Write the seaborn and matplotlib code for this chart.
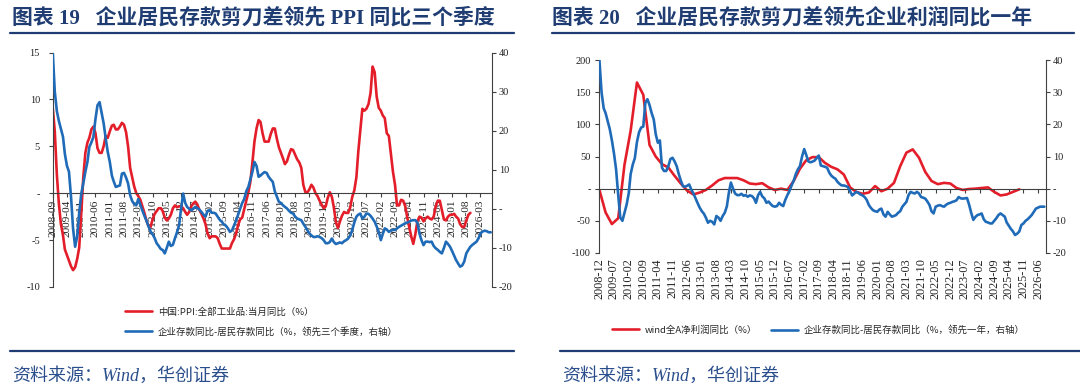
import matplotlib
matplotlib.use("Agg")
import matplotlib.pyplot as plt
import matplotlib.dates as mdates
import matplotlib.ticker as mticker
from matplotlib.lines import Line2D
import pandas as pd
import seaborn as sns

sns.set_theme(style="white")
plt.rcParams["font.family"] = ["Liberation Serif", "Noto Sans CJK SC", "DejaVu Sans"]
CJK = ["Noto Sans CJK SC", "DejaVu Sans"]
MIXED = ["Liberation Serif", "Noto Sans CJK SC"]

RED = "#E31E2A"
BLUE = "#1F6BB8"
NAVY = "#1F3D73"
AXIS = "#404040"

# ---------------- chart 19: PPI vs deposit gap (lead 3 quarters) ----------------
ppi_start = "2008-09-01"
ppi_yoy = [
    9.1, 6.6, 2.0, -1.1,
    -3.3, -4.5, -6.0, -6.6, -7.2, -7.8, -8.2, -7.9, -7.0, -5.8, -2.1, 1.7,
    4.3, 5.4, 5.9, 6.8, 7.1, 6.4, 4.8, 4.3, 4.3, 5.0, 6.1, 5.9,
    6.6, 7.2, 7.3, 6.8, 6.8, 7.1, 7.5, 7.3, 6.5, 5.0, 2.7, 1.7,
    0.7, 0.0, -0.3, -0.7, -1.4, -2.1, -2.9, -3.5, -3.6, -2.8, -2.2, -1.9,
    -1.6, -1.6, -1.9, -2.6, -2.9, -2.7, -2.3, -1.6, -1.3, -1.5, -1.4, -1.4,
    -1.6, -2.0, -2.3, -2.0, -1.4, -1.1, -0.9, -1.2, -1.8, -2.2, -2.7, -3.3,
    -4.3, -4.8, -4.6, -4.6, -4.6, -4.8, -5.4, -5.9, -5.9, -5.9, -5.9, -5.9,
    -5.3, -4.9, -4.3, -3.4, -2.8, -2.6, -1.7, -0.8, 0.1, 1.2, 3.3, 5.5,
    6.9, 7.8, 7.6, 6.4, 5.5, 5.5, 5.5, 6.3, 6.9, 6.9, 5.8, 4.9,
    4.3, 3.7, 3.1, 3.4, 4.1, 4.7, 4.6, 4.1, 3.6, 3.3, 2.7, 0.9,
    0.1, 0.1, 0.4, 0.9, 0.6, 0.0, -0.3, -0.8, -1.2, -1.6, -1.4, -0.5,
    0.1, -0.4, -1.5, -3.1, -3.7, -3.0, -2.4, -2.0, -2.1, -2.1, -1.5, -0.4,
    0.3, 1.7, 4.4, 6.8, 9.0, 8.8, 9.0, 9.5, 10.7, 13.5, 12.9, 10.3,
    9.1, 8.8, 8.3, 8.0, 6.4, 6.1, 4.2, 2.3, 0.9, -1.3, -1.3, -0.7,
    -0.8, -1.4, -2.5, -3.6, -4.6, -5.4, -4.4, -3.0, -2.5, -2.6, -3.0, -2.7,
    -2.5, -2.7, -2.8, -2.5, -1.4, -0.8, -0.8, -1.8, -2.8, -2.9, -2.5, -2.3,
    -2.3, -2.2, -2.5, -2.7, -3.3, -3.6, -3.6, -2.9, -2.3, -2.1,
]

gap_q3_start = "2008-09-01"
gap_lead_q3 = [
    40, 30, 25, 22.5, 20.5, 18.4, 14, 11, 9.5, 3, -5, -9.7,
    -7, -1, 3.9, 6.5, 9.5, 12, 15.8, 17, 18.4, 23, 26.5, 27.3,
    24.5, 21.9, 18, 14.6, 12, 8.5, 7, 5.6, 5.8, 6, 9, 9.2,
    8, 6.5, 3.5, 2, 1.2, 0.9, 2.5, 1, -0.4, -1.8, -3, -4.5,
    -5.8, -6.5, -7.5, -8.8, -9.5, -10.3, -10.5, -11.4, -10, -8.4, -9.5, -9.2,
    -7.5, -6, -4.2, 0, 3.9, 1.5, 0.5, 0, -0.4, 0, 0.5, 0.2,
    -0.2, -0.8, -1.5, -2, -0.5, -0.3, -1, -1, -1.2, -2, -2.8, -3.3,
    -4, -4.3, -5, -5.9, -5.5, -4.2, -3, -1.5, 0, 1.5, 2.5, 4.5,
    5.6, 7.5, 9.5, 12, 11, 8.2, 8.5, 9, 9.4, 9.2, 8.2, 7.5,
    6.9, 4.5, 3.1, 1.8, 1.5, 0.9, 0.5, 0.1, -0.5, -1, -1.2, -2,
    -2.5, -2.7, -2.9, -3.8, -4.6, -5.5, -6.3, -6.8, -7.2, -7.2, -7, -7.2,
    -7.5, -8, -8.8, -8.8, -8.5, -7.6, -8.5, -9, -8.8, -8.6, -8.8, -8.3,
    -8, -7.6, -6.8, -5.4, -3.5, -2, -1.5, -1.2, -2.5, -2, -1.2, -1.3,
    -1.8, -2.5, -3.3, -4.5, -5.9, -8, -6.5, -5, -5.3, -5.9, -5.6, -5.4,
    -5.4, -5, -4.6, -4.3, -4, -3.7, -3.5, -3.3, -3, -2.9, -2.9, -3.5,
    -6.3, -8, -9.3, -8.4, -8.4, -8.5, -8.4, -9.5, -10.1, -10.5, -11, -11.4,
    -10, -8.4, -9, -9.7, -10.8, -12, -13.1, -14, -14.8, -14.5, -13.5, -11.4,
    -10.5, -9.7, -9.2, -8.8, -8.4, -7.5, -6.3, -5.8, -5.6, -5.7, -6, -6,
]
ticks_19 = pd.date_range("2008-09-01", periods=31, freq="7MS")

# ---------------- chart 20: profit vs deposit gap (lead 1 year) ----------------
profit_start = "2008-12-01"  # quarterly
profit_yoy = [
    -2, -37, -55, -46, 37, 90, 165, 146, 68, 50, 38, 33,
    20, 8, -3, -9, -6, -2, 5, 13, 16.5, 16.5, 16.5, 13,
    8, 7, 8.5, 2, -2, 0, -2, 12, 31, 44, 49, 49,
    40, 34, 30, 22, 2, -5, -8, -6, 4, -4, 0, 9,
    35, 56, 61, 48, 26, 12, 7, 9, 8, 1, -2, -0.5,
    0, 1, 2, -5, -10.5, -9, -5, -1,
]

gap_y1_start = "2008-12-01"
gap_lead_y1 = [
    40, 30, 25, 23.5, 21, 18.5, 15, 11, 6, -2, -9, -10,
    -7.5, -5, -1.5, 4.5, 7.5, 9.5, 14.5, 17.5, 19, 19.3, 26.7, 27.8,
    26, 23.5, 21.5, 17, 14.3, 15, 6.5, 5.5, 5.5, 7, 9.2, 9.6,
    8.5, 7, 4.5, 2.5, 0.8, 0.6, 0.9, 1.3, -0.3, -1.5, -3, -4.5,
    -5.9, -7, -7.8, -9, -10.6, -10, -10.3, -11.1, -8.5, -9, -10, -8.5,
    -7.5, -5.5, -1, 1.9, 0, -1.5, -2, -2, -1.6, -2.2, -2, -2.5,
    -2.1, -2.3, -3, -4.4, -2, -1, -2.4, -3, -4.4, -4, -4.8, -5.4,
    -5.6, -5.4, -4.4, -5, -5.4, -3.5, -2, -0.7, 1, 2.5, 4.5, 6,
    7, 10, 12.3, 10.6, 8.5, 8.2, 8.4, 8.7, 9.5, 10.3, 7.2, 7,
    6.8, 6.5, 5, 4.1, 3.5, 3.1, 2.1, 1.5, 1, 1, 0.8, 0.5,
    -0.8, -2.1, -1.5, -1, -1.3, -1.8, -2.1, -2.6, -3.5, -5.1, -6, -6.7,
    -7, -7.2, -6.5, -6.2, -8, -8.7, -7.2, -8, -8.7, -8.5, -8.2, -7.5,
    -7, -5.6, -4.8, -4.1, -2, -1, -1.3, -1.5, -1, -1.5, -2.6, -2.8,
    -3.1, -4, -5.1, -7, -7.7, -5.6, -5.3, -5.1, -5.4, -5.6, -5, -4.6,
    -4.4, -4.1, -3.9, -3.6, -2.6, -3, -3.1, -3, -2.9, -5, -7.5, -9.7,
    -8.8, -8.2, -8, -7.7, -9.5, -10.3, -10.5, -10.8, -10.8, -10, -9.2, -8.2,
    -7.7, -8.2, -8.7, -10.5, -11.5, -12.5, -13.3, -14.4, -14, -13.3, -11.3, -10.8,
    -10, -9.5, -8.8, -8.2, -7.2, -6.2, -5.9, -5.6, -5.6, -5.6,
]
ticks_20 = pd.date_range("2008-12-01", periods=31, freq="7MS")

ppi_df = pd.DataFrame({"date": pd.date_range(ppi_start, periods=len(ppi_yoy), freq="MS"), "v": ppi_yoy})
g19_df = pd.DataFrame({"date": pd.date_range(gap_q3_start, periods=len(gap_lead_q3), freq="MS"), "v": gap_lead_q3})
prof_df = pd.DataFrame({"date": pd.date_range(profit_start, periods=len(profit_yoy), freq="3MS"), "v": profit_yoy})
g20_df = pd.DataFrame({"date": pd.date_range(gap_y1_start, periods=len(gap_lead_y1), freq="MS"), "v": gap_lead_y1})


def dash_zero(v, pos):
    return "-" if abs(v) < 1e-9 else f"{v:g}"


def style_pair(ax, ax2):
    for a in (ax, ax2):
        a.set_facecolor("none")
        a.grid(False)
        a.set_xlabel("")
        a.set_ylabel("")
        for s in a.spines.values():
            s.set_color(AXIS)
            s.set_linewidth(0.8)
    ax.spines["top"].set_visible(False)
    ax.spines["right"].set_visible(False)
    ax2.spines["top"].set_visible(False)
    ax2.spines["left"].set_visible(False)
    ax2.spines["bottom"].set_visible(False)
    ax.spines["bottom"].set_position(("data", 0))
    ax.yaxis.set_major_formatter(mticker.FuncFormatter(dash_zero))
    ax2.yaxis.set_major_formatter(mticker.FuncFormatter(dash_zero))
    ax.tick_params(axis="y", which="major", left=True, direction="out", length=3,
                   width=0.8, color=AXIS, labelsize=7.5, labelcolor="#222222", pad=6)
    ax2.tick_params(axis="y", which="major", right=True, direction="out", length=3,
                    width=0.8, color=AXIS, labelsize=7.5, labelcolor="#222222", pad=2)
    ax.xaxis.set_major_formatter(mdates.DateFormatter("%Y-%m"))
    for lab in ax.get_yticklabels() + ax2.get_yticklabels():
        lab.set_family("Liberation Serif")


fig = plt.figure(figsize=(10.8, 3.9), dpi=100)
fig.patch.set_facecolor("white")

# ---- left chart
ax1 = fig.add_axes([52.5 / 1080, 1 - 287 / 390, (492 - 52.5) / 1080, (287 - 52.5) / 390])
ax2 = ax1.twinx()
sns.lineplot(data=ppi_df, x="date", y="v", ax=ax1, color=RED, linewidth=1.9)
sns.lineplot(data=g19_df, x="date", y="v", ax=ax2, color=BLUE, linewidth=1.9)
ax1.set_ylim(-10, 15)
ax1.set_yticks([-10, -5, 0, 5, 10, 15])
ax2.set_ylim(-20, 40)
ax2.set_yticks([-20, -10, 0, 10, 20, 30, 40])
ax1.set_xlim(pd.Timestamp("2008-08-28"), pd.Timestamp("2026-08-20"))
ax1.set_xticks(ticks_19)
style_pair(ax1, ax2)
ax1.tick_params(axis="x", bottom=True, direction="out", length=3, width=0.8, color=AXIS,
                labelsize=8.2, labelrotation=90, pad=1.5)

# ---- right chart
ax3 = fig.add_axes([599 / 1080, 1 - 253 / 390, (1046 - 599) / 1080, (253 - 60) / 390])
ax4 = ax3.twinx()
sns.lineplot(data=prof_df, x="date", y="v", ax=ax3, color=RED, linewidth=1.9)
sns.lineplot(data=g20_df, x="date", y="v", ax=ax4, color=BLUE, linewidth=1.9)
ax3.set_ylim(-100, 200)
ax3.set_yticks([-100, -50, 0, 50, 100, 150, 200])
ax4.set_ylim(-20, 40)
ax4.set_yticks([-20, -10, 0, 10, 20, 30, 40])
ax3.set_xlim(pd.Timestamp("2008-11-25"), pd.Timestamp("2026-09-25"))
ax3.set_xticks(ticks_20)
style_pair(ax3, ax4)
ax3.tick_params(axis="y", pad=3)
ax3.tick_params(axis="x", bottom=True, direction="out", length=3, width=0.8, color=AXIS,
                labelsize=8.8, labelrotation=90, pad=47)

# ---- legends
leg_kw = dict(frameon=False, handlelength=2.9, handletextpad=0.6, borderpad=0, borderaxespad=0,
              prop={"family": CJK, "size": 6.8})
h_red = Line2D([], [], color=RED, lw=1.9)
h_blue = Line2D([], [], color=BLUE, lw=1.9)
fig.legend([h_red, h_blue],
           ["中国:PPI:全部工业品:当月同比（%）", "企业存款同比-居民存款同比（%，领先三个季度，右轴）"],
           loc="upper left", bbox_to_anchor=(125 / 1080, 1 - 307 / 390), labelspacing=1.1, **leg_kw)
fig.legend([h_red], ["wind全A净利润同比（%）"],
           loc="center left", bbox_to_anchor=(612 / 1080, 1 - 330 / 390), **leg_kw)
fig.legend([h_blue], ["企业存款同比-居民存款同比（%，领先一年，右轴）"],
           loc="center left", bbox_to_anchor=(771 / 1080, 1 - 330 / 390), **leg_kw)

# ---- titles, rules and source notes
fig.text(12 / 1080, 1 - 18 / 390, "图表 19   企业居民存款剪刀差领先 PPI 同比三个季度",
         family=MIXED, fontsize=15, fontweight="bold", color=NAVY, va="center")
fig.text(552 / 1080, 1 - 18 / 390, "图表 20   企业居民存款剪刀差领先企业利润同比一年",
         family=MIXED, fontsize=15, fontweight="bold", color=NAVY, va="center")
for x0, x1 in [(10, 514), (552, 1074)]:
    fig.add_artist(Line2D([x0 / 1080, x1 / 1080], [1 - 33 / 390] * 2, color=NAVY, lw=1.6))
for x0, x1 in [(10, 514), (560, 1080)]:
    fig.add_artist(Line2D([x0 / 1080, x1 / 1080], [1 - 351 / 390] * 2, color=NAVY, lw=1.6))
for x0 in (12, 562):
    fig.text(x0 / 1080, 1 - 376 / 390, "资料来源：Wind，华创证券", family=MIXED, fontsize=13,
             style="italic", color="#2A4E8C", va="center")

fig.savefig("out.png", dpi=100, facecolor="white")
